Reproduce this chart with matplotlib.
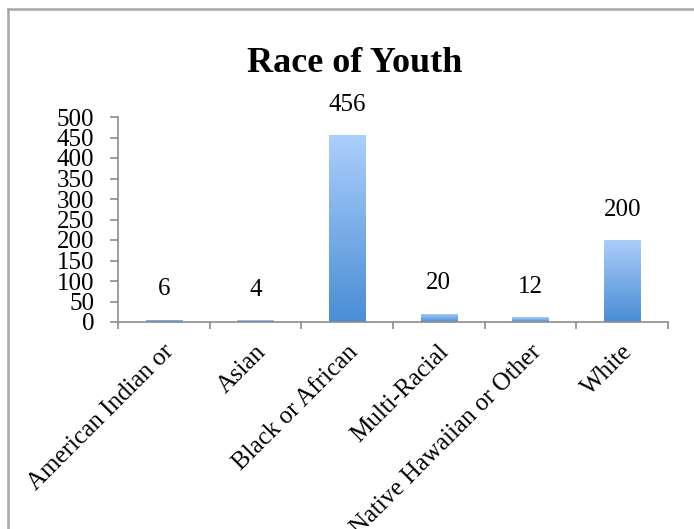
import numpy as np
import matplotlib
matplotlib.use("Agg")
import matplotlib.pyplot as plt
import matplotlib.transforms as mtransforms
from matplotlib.lines import Line2D
from matplotlib.colors import LinearSegmentedColormap

# Dados
categorias = ["American Indian or", "Asian", "Black or African", "Multi-Racial",
              "Native Hawaiian or Other", "White"]
valores = [6, 4, 456, 20, 12, 200]
yticks = [0, 50, 100, 150, 200, 250, 300, 350, 400, 450, 500]

plt.rcParams["font.family"] = ["Liberation Serif", "DejaVu Serif"]

W, H = 694, 529
fig = plt.figure(figsize=(W / 100, H / 100), dpi=100)
ax = fig.add_axes([118 / W, 1 - 322 / H, (668 - 118) / W, (322 - 117) / H])

x = np.arange(len(categorias))
barras = ax.bar(x, valores, width=0.4, color="none", edgecolor="none", zorder=2)

# gradiente vertical nas barras (claro em cima, escuro embaixo)
cmap = LinearSegmentedColormap.from_list("grad", ["#4a8dd6", "#abcffb"])
grad = np.linspace(0, 1, 256).reshape(-1, 1)
for b in barras:
    x0, y0 = b.get_x(), b.get_y()
    im = ax.imshow(grad, cmap=cmap, origin="lower", aspect="auto",
                   extent=[x0, x0 + b.get_width(), y0, y0 + b.get_height()],
                   zorder=2)
    im.set_clip_path(b)

for xi, v in zip(x, valores):
    ax.annotate(str(v), (xi, v), xytext=(0, 14), textcoords="offset points",
                ha="center", va="bottom", fontsize=18)

ax.set_xlim(-0.5, len(categorias) - 0.5)
ax.set_ylim(0, 500)
ax.set_yticks(yticks)
ax.set_yticklabels([str(t) for t in yticks], fontsize=18)
ax.tick_params(axis="y", length=6, width=1.2, color="#8c8c8c", pad=11)

# ticks do eixo x nas divisões entre categorias
ax.set_xticks(np.arange(len(categorias) + 1) - 0.5)
ax.set_xticklabels([])
ax.set_xticks(x, minor=True)
ax.set_xticklabels(categorias, minor=True, rotation=45, ha="right",
                   va="center", rotation_mode="anchor", fontsize=18)
ax.tick_params(axis="x", which="major", length=5, width=1.2, color="#8c8c8c")
ax.tick_params(axis="x", which="minor", length=0, pad=22)

# desloca um pouco os rótulos inclinados
desloc = mtransforms.ScaledTranslation(7 / 100, 4 / 100, fig.dpi_scale_trans)
for lbl in ax.get_xticklabels(minor=True):
    lbl.set_transform(lbl.get_transform() + desloc)

for s in ["top", "right"]:
    ax.spines[s].set_visible(False)
for s in ["left", "bottom"]:
    ax.spines[s].set_color("#8c8c8c")
    ax.spines[s].set_linewidth(1.2)

fig.text(355 / W, 1 - 72 / H, "Race of Youth", ha="center", va="baseline",
         fontsize=26, fontweight="bold")

# moldura do gráfico
fig.add_artist(Line2D([7.5 / W, 7.5 / W], [0, 1 - 8.5 / H], color="#a6a6a6", lw=1.8))
fig.add_artist(Line2D([7.5 / W, 1], [1 - 8.5 / H, 1 - 8.5 / H], color="#a6a6a6", lw=1.8))

fig.savefig("out.png", dpi=100)
